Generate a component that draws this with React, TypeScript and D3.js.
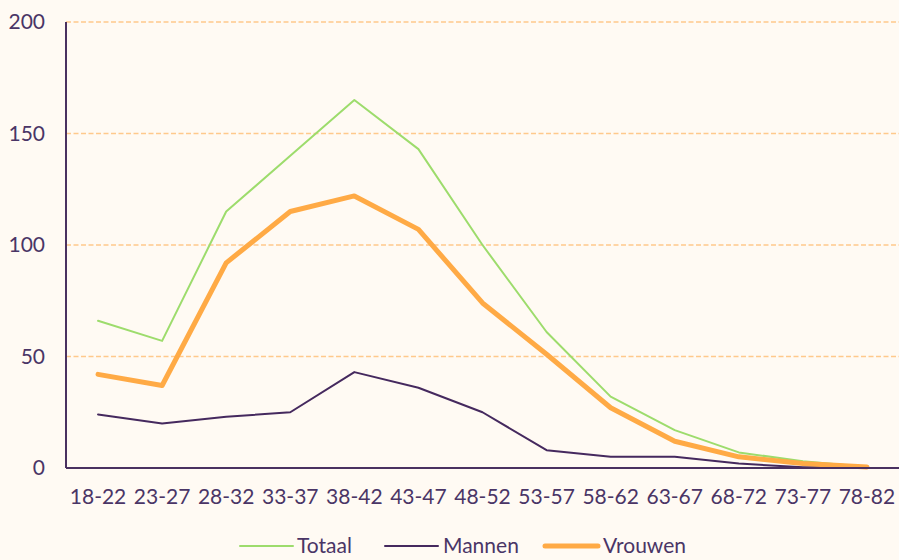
import React from "react";
import * as d3 from "d3";

const categories = ["18-22","23-27","28-32","33-37","38-42","43-47","48-52","53-57","58-62","63-67","68-72","73-77","78-82"];
const totaal = [66, 57, 115, 140, 165, 143, 100, 61, 32, 17, 7, 3, 0.5];
const mannen = [24, 20, 23, 25, 43, 36, 25, 8, 5, 5, 2, 0.3, 0.5];
const vrouwen = [42, 37, 92, 115, 122, 107, 74, 51, 27, 12, 5, 2, 0.5];
const yTicks = [0, 50, 100, 150, 200];

const W = 899, H = 560;
const left = 66, right = 899, top = 22, bottom = 468;
const textColor = "#4a3566";
const font = "Lato, sans-serif";

export default function App() {
  const x = d3.scaleBand<string>().domain(categories).range([left, right]);
  const y = d3.scaleLinear().domain([0, 200]).range([bottom, top]);
  const cx = (c: string) => (x(c) as number) + x.bandwidth() / 2;
  const line = (vals: number[]) =>
    d3.line<number>().x((_, i) => cx(categories[i])).y((v) => y(v))(vals) as string;

  const series = [
    { name: "Totaal", vals: totaal, color: "#9ddc6c", w: 2, lx: 240, tx: 297 },
    { name: "Mannen", vals: mannen, color: "#45295e", w: 2, lx: 385, tx: 443 },
    { name: "Vrouwen", vals: vrouwen, color: "#ffaa45", w: 5, lx: 545, tx: 603 },
  ];

  return (
    <svg width={W} height={H} style={{ position: "absolute", left: 0, top: 0, background: "#fffaf3" }} fontFamily={font}>
      <rect x={0} y={0} width={W} height={H} fill="#fffaf3" />
      {yTicks.filter((t) => t > 0).map((t) => (
        <line key={t} x1={left} x2={right} y1={y(t)} y2={y(t)} stroke="#ffc98c" strokeWidth={1.5} strokeDasharray="5,2.5" />
      ))}
      {yTicks.map((t) => (
        <text key={t} x={45} y={y(t)} dy="0.35em" textAnchor="end" fontSize={21} fill={textColor}>{t}</text>
      ))}
      {categories.map((c) => (
        <text key={c} x={cx(c)} y={497} dy="0.35em" textAnchor="middle" fontSize={21} fill={textColor}>{c}</text>
      ))}
      <line x1={left} x2={left} y1={top} y2={bottom} stroke="#4a3160" strokeWidth={2} />
      {series.map((s) => (
        <path key={s.name} d={line(s.vals)} fill="none" stroke={s.color} strokeWidth={s.w} strokeLinejoin="round" strokeLinecap="round" />
      ))}
      <line x1={left} x2={right} y1={bottom} y2={bottom} stroke="#4a3160" strokeWidth={2} />
      {series.map((s) => (
        <g key={s.name}>
          <line x1={s.lx} x2={s.lx + 53} y1={546} y2={546} stroke={s.color} strokeWidth={s.w} strokeLinecap="round" />
          <text x={s.tx} y={546} dy="0.35em" fontSize={21} fill={textColor}>{s.name}</text>
        </g>
      ))}
    </svg>
  );
}
